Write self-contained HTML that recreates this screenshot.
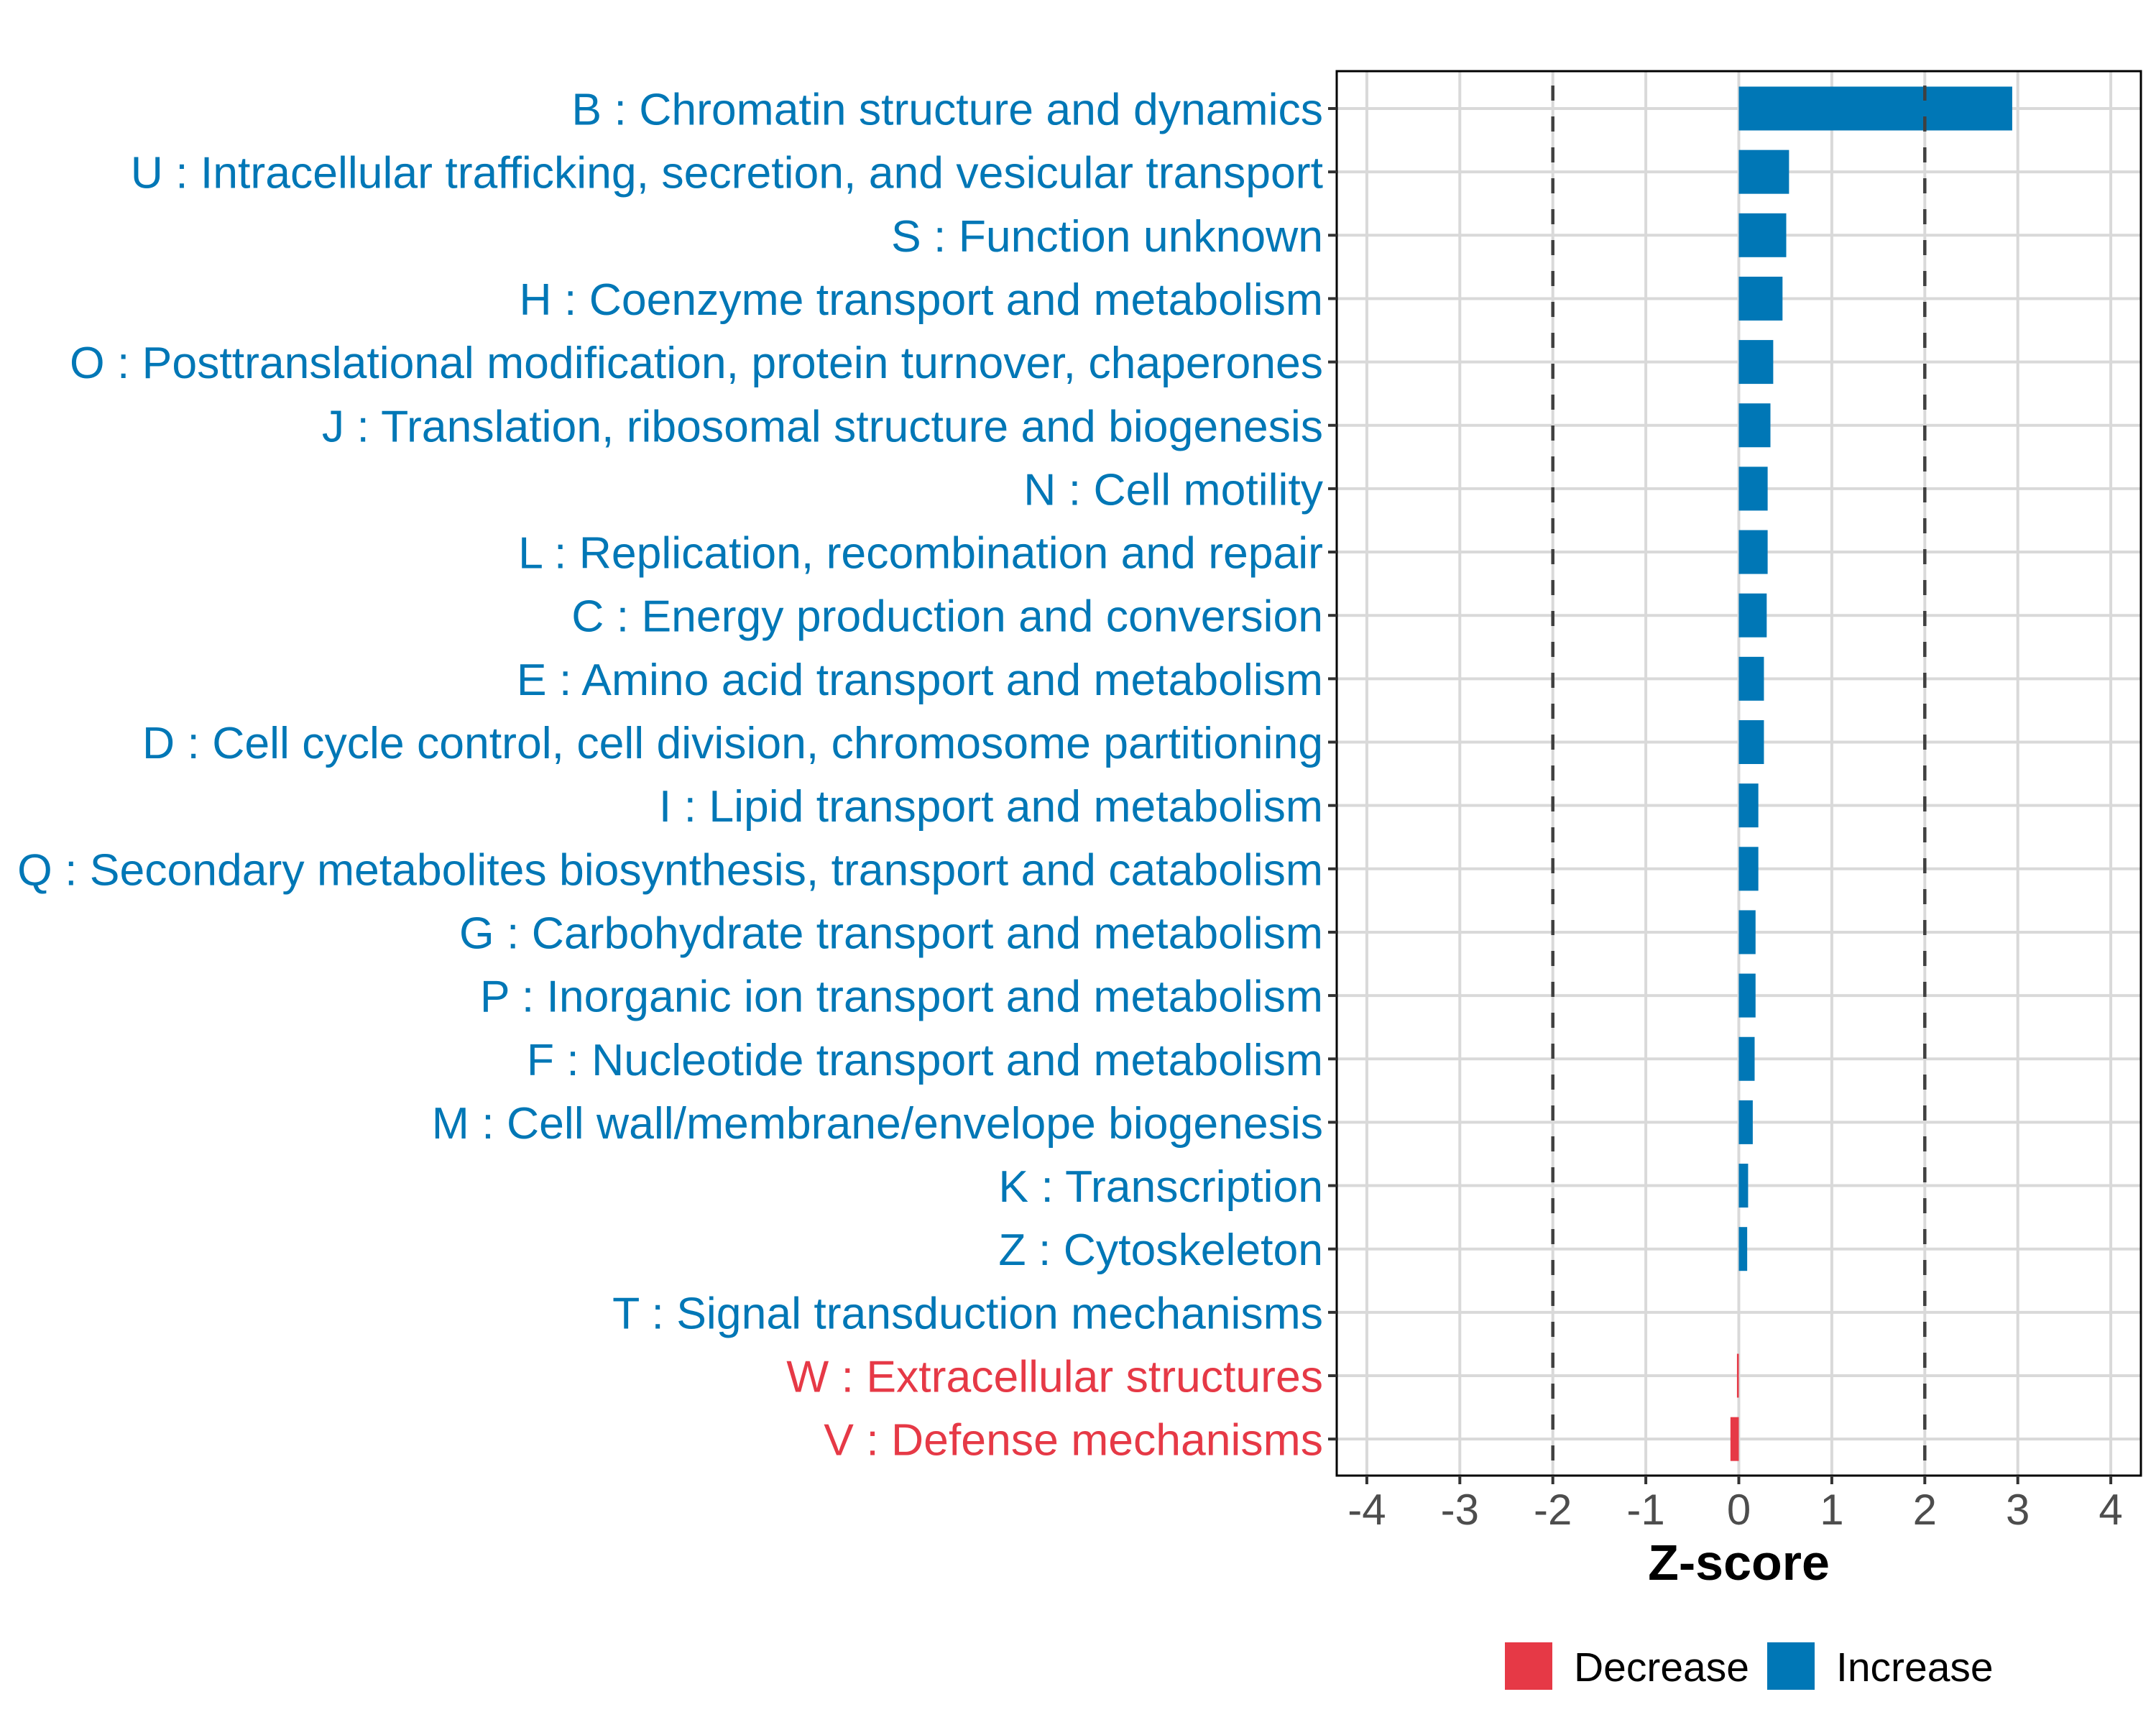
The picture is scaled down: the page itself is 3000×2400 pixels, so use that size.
<!DOCTYPE html>
<html><head><meta charset="utf-8"><style>
html,body{margin:0;padding:0;background:#fff;}
svg{display:block;font-family:"Liberation Sans",Arial,sans-serif;}
</style></head><body>
<svg id="chart" width="3000" height="2400" viewBox="0 0 3000 2400" xmlns="http://www.w3.org/2000/svg"></svg>
<script>
const categories = ["B : Chromatin structure and dynamics","U : Intracellular trafficking, secretion, and vesicular transport","S : Function unknown","H : Coenzyme transport and metabolism","O : Posttranslational modification, protein turnover, chaperones","J : Translation, ribosomal structure and biogenesis","N : Cell motility","L : Replication, recombination and repair","C : Energy production and conversion","E : Amino acid transport and metabolism","D : Cell cycle control, cell division, chromosome partitioning","I : Lipid transport and metabolism","Q : Secondary metabolites biosynthesis, transport and catabolism","G : Carbohydrate transport and metabolism","P : Inorganic ion transport and metabolism","F : Nucleotide transport and metabolism","M : Cell wall/membrane/envelope biogenesis","K : Transcription","Z : Cytoskeleton","T : Signal transduction mechanisms","W : Extracellular structures","V : Defense mechanisms"];
const zscores = [2.94,0.54,0.51,0.47,0.37,0.34,0.31,0.31,0.30,0.27,0.27,0.21,0.21,0.18,0.18,0.17,0.15,0.10,0.09,0,-0.02,-0.09];
const xTicks = [-4,-3,-2,-1,0,1,2,3,4];
const thresholds = [-2,2];
const legendLabels = ["Decrease","Increase"];

const NS="http://www.w3.org/2000/svg";
const svg=document.getElementById('chart');
const BLUE="#0077B6", RED="#E63946";
const P={l:1860,r:2979,t:99,b:2053};
const x0=2419.5, unit=129.4;
const xs=v=>x0+v*unit;
const row0=151, step=88.15;
const ys=i=>row0+i*step;
function mk(tag,attrs,parent){const e=document.createElementNS(NS,tag);for(const k in attrs)e.setAttribute(k,attrs[k]);(parent||svg).appendChild(e);return e;}

const panel=mk('rect',{x:P.l,y:P.t,width:P.r-P.l,height:P.b-P.t,fill:'#fff'});


xTicks.forEach(t=>{const g=mk('line',{x1:xs(t),x2:xs(t),y1:P.t,y2:P.b,stroke:'#D9D9D9','stroke-width':4});

});
categories.forEach((c,i)=>{const g=mk('line',{x1:P.l,x2:P.r,y1:ys(i),y2:ys(i),stroke:'#D9D9D9','stroke-width':4});

});
zscores.forEach((v,i)=>{
  const a=xs(0),b=xs(v);
  const r=mk('rect',{x:Math.min(a,b),y:ys(i)-30.5,width:Math.abs(b-a),height:61,fill:v<0?RED:BLUE});
  
  
});
thresholds.forEach(t=>{const l=mk('line',{x1:xs(t),x2:xs(t),y1:P.t,y2:P.b,stroke:'#404040','stroke-width':4.5,'stroke-dasharray':'21 22','stroke-dashoffset':-20});

});
const bd=mk('rect',{x:P.l,y:P.t,width:P.r-P.l,height:P.b-P.t,fill:'none',stroke:'#000','stroke-width':3});


categories.forEach((c,i)=>{
  const tk=mk('line',{x1:P.l-12,x2:P.l,y1:ys(i),y2:ys(i),stroke:'#333','stroke-width':4});
  
  
  const t=mk('text',{x:1841,y:ys(i)+22.5,'text-anchor':'end','font-size':62.5,fill:zscores[i]<0?RED:BLUE});
  t.textContent=c;
  
  
});
xTicks.forEach(v=>{
  const tk=mk('line',{x1:xs(v),x2:xs(v),y1:P.b,y2:P.b+12,stroke:'#333','stroke-width':4});
  
  
  const t=mk('text',{x:xs(v),y:2121,'text-anchor':'middle','font-size':60,fill:'#4D4D4D'});
  t.textContent=String(v);
  
  
});
const xt=mk('text',{x:2419.5,y:2198,'text-anchor':'middle','font-size':70,'font-weight':'bold',fill:'#000'});
xt.textContent="Z-score";


const legCols=[RED,BLUE], legX=[2094,2459], legTX=[2190,2555];
legendLabels.forEach((lab,i)=>{
  const k=mk('rect',{x:legX[i],y:2285,width:66,height:66,fill:legCols[i]});
  
  
  const t=mk('text',{x:legTX[i],y:2339,'font-size':57,fill:'#000'});
  t.textContent=lab;
  
  
});
</script>
</body></html>
